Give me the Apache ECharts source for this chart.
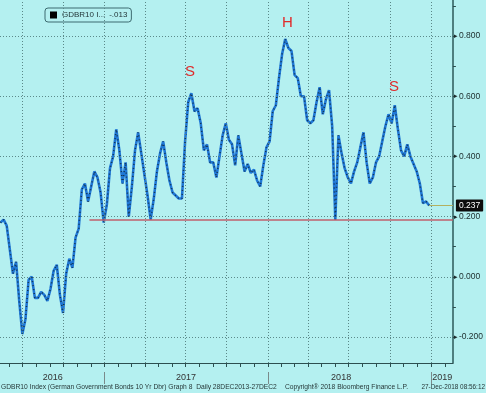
<!DOCTYPE html>
<html><head><meta charset="utf-8">
<script src="https://cdn.jsdelivr.net/npm/echarts@6/dist/echarts.min.js"></script>
<style>html,body{margin:0;padding:0;background:#b4f0f0}#c{width:486px;height:393px}</style>
</head><body><div id="c"></div>
<script>
// ---- data (weekly, Fridays, starting 2016-05-13) ----
const startDate = [2016, 5, 13];
const yields = [
 0.18,0.19,0.17,0.09,0.01,0.05,-0.08,-0.19,-0.14,-0.01,
 0.00,-0.07,-0.07,-0.05,-0.06,-0.08,-0.04,0.02,0.04,-0.06,
 -0.12,0.01,0.06,0.03,0.13,0.16,0.29,0.31,0.25,0.30,
 0.35,0.33,0.28,0.18,0.24,0.36,0.40,0.49,0.42,0.31,
 0.38,0.20,0.30,0.42,0.48,0.41,0.34,0.27,0.19,0.26,
 0.35,0.41,0.45,0.38,0.32,0.28,0.27,0.26,0.26,0.45,
 0.58,0.61,0.55,0.56,0.51,0.42,0.44,0.38,0.38,0.33,
 0.40,0.47,0.51,0.455,0.44,0.37,0.47,0.41,0.35,0.375,
 0.345,0.356,0.32,0.30,0.37,0.43,0.45,0.55,0.57,0.66,
 0.74,0.79,0.76,0.75,0.67,0.66,0.60,0.60,0.52,0.51,
 0.52,0.58,0.63,0.54,0.59,0.62,0.50,0.19,0.47,0.41,
 0.36,0.33,0.31,0.35,0.38,0.43,0.48,0.38,0.31,0.33,
 0.38,0.40,0.45,0.50,0.54,0.51,0.57,0.49,0.42,0.40,
 0.44,0.40,0.375,0.35,0.31,0.245,0.25,0.237
];
const lastValue = 0.237;
const supportLevel = 0.189;
const supportStart = '2016-11-28';
const yTickValues = [-0.2, 0, 0.2, 0.4, 0.6, 0.8];
const yMinorValues = [-0.2,-0.1,0,0.1,0.2,0.3,0.4,0.5,0.6,0.7,0.8,0.9];
const quarterLines = ['2016-07-01','2016-10-01','2017-01-01','2017-04-01','2017-07-01','2017-10-01','2018-01-01','2018-04-01','2018-07-01','2018-10-01','2019-01-01'];
const yearLabels = ['2016','2017','2018','2019'];
const yearLabelDates = ['2016-09-07','2017-07-02','2018-06-14','2019-01-26'];
const yearStarts = ['2017-01-01','2018-01-01','2019-01-01'];
const patternLabels = ['S','H','S'];
const patternDates = ['2017-07-11','2018-02-14','2018-10-10'];
const patternLevels = [0.68, 0.843, 0.63];
const legendText = 'GDBR10 I...\u2002-.013';
const footerLeft = 'GDBR10 Index (German Government Bonds 10 Yr Dbr) Graph 8  Daily 28DEC2013-27DEC2';
const footerMid = 'Copyright\u00ae 2018 Bloomberg Finance L.P.';
const footerRight = '27-Dec-2018 08:56:12';

// ---- helpers ----
const t = s => { const [y,m,d] = s.split('-').map(Number); return new Date(y, m-1, d).getTime(); };
const xMin = t('2016-05-12'), xMax = t('2019-02-19');
const yMin = -0.2864, yMax = 0.9196;
const seriesData = yields.map((v, i) => [new Date(startDate[0], startDate[1]-1, startDate[2] + 7*i).getTime(), v]);
const lastDate = seriesData[seriesData.length-1][0];
const monthTicks = [];
for (let y = 2016; y <= 2019; y++) for (let m = 0; m < 12; m++) {
  const ts = new Date(y, m, 1).getTime(); if (ts > xMin && ts < xMax) monthTicks.push(ts);
}
const yearLabelTs = yearLabelDates.map(t);
const FONT = 'Liberation Sans';
const TXT = '#1b2b2b';
const gridStyle = {type: [1, 2], color: '#5c8a8a', width: 1};
const vGridStyle = {type: [1, 2], color: '#5a8888', width: 1};

const chart = echarts.init(document.getElementById('c'), null, {renderer:'canvas'});
chart.setOption({
  backgroundColor: '#b4f0f0',
  animation: false,
  textStyle: {fontFamily: FONT},
  grid: {left: 0, right: 31, top: 0, bottom: 30},
  legend: {
    left: 45, top: 8, padding: [3, 4, 3, 5], itemWidth: 7, itemHeight: 7, itemGap: 0,
    backgroundColor: '#b4f0f0', borderColor: '#3d6b70', borderWidth: 1, borderRadius: 3,
    data: [{name: 'GDBR10 Index', icon: 'rect', itemStyle: {color: '#000'}}],
    formatter: () => legendText,
    textStyle: {fontSize: 8, color: '#24383a', fontFamily: FONT}
  },
  xAxis: [{
    type: 'value', min: xMin, max: xMax, position: 'bottom', scale: true,
    axisLine: {show: true, onZero: false, lineStyle: {color: '#2c4f50', width: 1.2}},
    axisTick: {show: true, customValues: monthTicks, length: 4, lineStyle: {color: '#2c4f50'}},
    axisLabel: {show: true, customValues: yearLabelTs, margin: 10,
      formatter: v => { const k = yearLabelTs.indexOf(v); return k >= 0 ? yearLabels[k] : ''; },
      fontSize: 9, color: '#333', fontFamily: FONT, showMinLabel: true, showMaxLabel: true},
    splitLine: {show: false}
  }, {
    type: 'value', min: xMin, max: xMax, position: 'bottom', offset: 9, scale: true,
    axisLine: {show: false, onZero: false},
    axisTick: {show: true, customValues: yearStarts.map(t), length: 12, lineStyle: {color: '#7a8a8a'}},
    axisLabel: {show: false}, splitLine: {show: false}
  }],
  yAxis: {
    type: 'value', position: 'right', min: yMin, max: yMax,
    axisLine: {show: true, onZero: false, lineStyle: {color: '#2c5a5a', width: 1.5}},
    axisTick: {show: true, customValues: yMinorValues, length: 3, lineStyle: {color: '#2c4f50'}},
    axisLabel: {show: true, customValues: yTickValues, margin: 1,
      formatter: v => '{a|\u25B8}' + v.toFixed(3),
      fontSize: 8.5, color: TXT, fontFamily: FONT,
      rich: {a: {fontSize: 7, color: '#1b2b2b', padding: [0, 1, 0, 0]}}},
    splitLine: {show: false}
  },
  series: [{
    name: 'grid', type: 'line', data: seriesData, z: 1, silent: true, showSymbol: false,
    lineStyle: {opacity: 0}, itemStyle: {opacity: 0},
    markLine: {
      silent: true, symbol: ['none','none'], label: {show: false},
      lineStyle: gridStyle,
      data: yTickValues.map(v => [{coord: [xMin, v]}, {coord: [xMax, v]}])
        .concat(quarterLines.map(d => [{coord: [t(d), yMin], lineStyle: vGridStyle}, {coord: [t(d) + 1, yMax]}]))
    }
  }, {
    name: 'GDBR10 Index', type: 'line', data: seriesData, showSymbol: false, z: 3,
    lineStyle: {color: '#1f78d6', width: 2.6}, itemStyle: {color: '#1f78d6'},
    markLine: {
      silent: true, symbol: ['none','none'],
      data: [
        [{coord: [t(supportStart), supportLevel], lineStyle: {color: '#c0606c', width: 1.5, type: 'solid'}, label: {show: false}},
         {coord: [xMax, supportLevel]}],
        [{coord: [lastDate, lastValue], lineStyle: {color: '#b3b060', width: 1, type: 'solid'},
          label: {show: true, position: 'end', distance: 3, formatter: lastValue.toFixed(3),
            backgroundColor: '#0c0c0c', color: '#fff', padding: [2, 3, 1, 3], fontSize: 8.5, fontFamily: FONT, borderRadius: 1}},
         {coord: [xMax, lastValue]}]
      ]
    }
  }, {
    name: 'overlay', type: 'line', data: seriesData, showSymbol: false, z: 4, silent: true,
    lineStyle: {color: '#10222e', width: 1.5, type: [1, 3], opacity: 0.8},
    markPoint: {
      silent: true, symbol: 'rect', symbolSize: [1, 1], itemStyle: {color: 'rgba(0,0,0,0)'},
      label: {show: true, position: 'inside', formatter: p => p.name, color: '#e02a2a', fontSize: 15, fontFamily: FONT},
      data: patternLabels.map((s, i) => ({name: s, coord: [t(patternDates[i]), patternLevels[i]]}))
    }
  }],
  graphic: [
    {type: 'text', left: 1, top: 384, style: {text: footerLeft, fontSize: 6.7, fill: '#263838', fontFamily: FONT}},
    {type: 'text', left: 285, top: 384, style: {text: footerMid, fontSize: 6.7, fill: '#263838', fontFamily: FONT}},
    {type: 'text', right: 1, top: 384, style: {text: footerRight, fontSize: 6.4, fill: '#263838', fontFamily: FONT}}
  ]
});
</script></body></html>
